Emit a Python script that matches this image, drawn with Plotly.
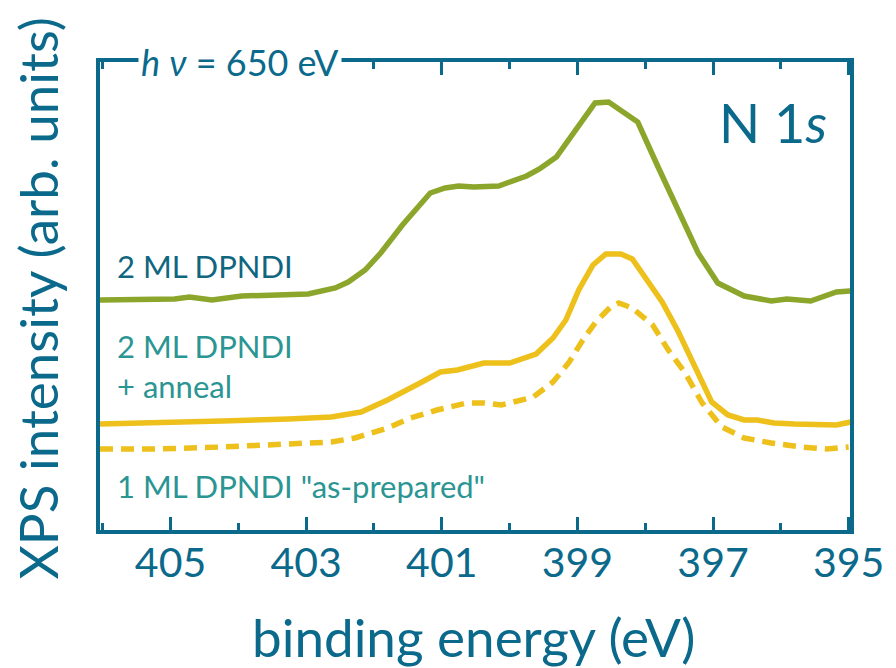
import plotly.graph_objects as go

# binding energy (eV) and intensity (arb. units)
be_2ml = [406.04, 405.45, 404.94, 404.72, 404.39, 403.95, 403.41, 402.97, 402.57, 402.38,
          402.13, 401.90, 401.58, 401.17, 400.95, 400.75, 400.53, 400.16, 399.75, 399.56,
          399.31, 399.02, 398.74, 398.54, 398.29, 398.11, 397.81, 397.51, 397.22, 396.93,
          396.54, 396.14, 395.91, 395.56, 395.18, 394.97]
int_2ml = [2.30, 2.30, 2.31, 2.33, 2.30, 2.34, 2.35, 2.36, 2.42, 2.48,
           2.60, 2.77, 3.05, 3.37, 3.42, 3.44, 3.43, 3.44, 3.54, 3.61,
           3.73, 4.00, 4.27, 4.28, 4.17, 4.08, 3.63, 3.20, 2.77, 2.47,
           2.34, 2.29, 2.31, 2.29, 2.38, 2.39]

be_anneal = [406.04, 405.20, 404.24, 403.26, 402.63, 402.19, 401.80, 401.32, 401.02, 400.77,
             400.38, 400.00, 399.61, 399.36, 399.17, 398.98, 398.77, 398.58, 398.36, 398.19,
             398.00, 397.75, 397.51, 397.27, 397.02, 396.78, 396.54, 396.35, 396.10, 395.80,
             395.32, 395.18, 394.97]
int_anneal = [1.06, 1.07, 1.09, 1.11, 1.13, 1.18, 1.30, 1.47, 1.58, 1.60,
              1.67, 1.67, 1.76, 1.92, 2.10, 2.40, 2.65, 2.76, 2.76, 2.71,
              2.52, 2.28, 1.98, 1.65, 1.28, 1.15, 1.10, 1.10, 1.07, 1.06,
              1.05, 1.05, 1.08]

be_1ml = [406.04, 405.20, 404.24, 403.26, 402.63, 402.28, 401.80, 401.46, 401.07, 400.63,
          400.38, 400.12, 399.65, 399.36, 399.12, 398.92, 398.73, 398.51, 398.39, 398.19,
          397.89, 397.66, 397.41, 397.16, 396.87, 396.54, 396.14, 395.70, 395.32, 395.00]
int_1ml = [0.81, 0.81, 0.83, 0.86, 0.88, 0.92, 1.02, 1.12, 1.20, 1.27,
           1.27, 1.25, 1.33, 1.48, 1.68, 1.90, 2.08, 2.23, 2.27, 2.22,
           2.05, 1.80, 1.57, 1.27, 1.03, 0.92, 0.87, 0.83, 0.81, 0.83]

tick_vals = [405, 403, 401, 399, 397, 395]
tick_text = ["405", "403", "401", "399", "397", "395"]

AXIS = "#0b6a8b"
GREEN = "#8ca62c"
YELLOW = "#edc01b"
LABEL1 = "#10667f"
LABEL2 = "#2b9593"
FONT = "Lato"

fig = go.Figure()
fig.add_trace(go.Scatter(x=be_2ml, y=int_2ml, mode="lines",
                         line=dict(color=GREEN, width=5.5), showlegend=False))
fig.add_trace(go.Scatter(x=be_anneal, y=int_anneal, mode="lines",
                         line=dict(color=YELLOW, width=5.5), showlegend=False))
fig.add_trace(go.Scatter(x=be_1ml, y=int_1ml, mode="lines",
                         line=dict(color=YELLOW, width=5.5, dash="13px,8px"), showlegend=False))

fig.update_layout(
    width=896, height=668,
    margin=dict(l=100, r=39, t=62, b=138),
    paper_bgcolor="white", plot_bgcolor="white",
    font=dict(family=FONT, color=AXIS),
    xaxis=dict(
        range=[406.04, 394.98], showgrid=False, zeroline=False,
        showline=True, linecolor=AXIS, linewidth=3.5, mirror="ticks",
        ticks="inside", ticklen=13, tickwidth=3, tickcolor=AXIS,
        tickvals=tick_vals, ticktext=tick_text,
        tickfont=dict(size=41, color=AXIS, family=FONT),
        ticklabelstandoff=-6,
        minor=dict(ticks="inside", ticklen=7, tickwidth=3, tickcolor=AXIS,
                   dtick=1, tick0=395),
    ),
    yaxis=dict(
        range=[0, 4.68], showgrid=False, zeroline=False,
        showline=True, linecolor=AXIS, linewidth=3.5, mirror=True,
        ticks="", showticklabels=False,
    ),
)

# axis titles
fig.add_annotation(xref="paper", yref="paper", x=0.498, y=-0.2265, xanchor="center", yanchor="middle",
                   text="binding energy (eV)", showarrow=False,
                   font=dict(size=53, color=AXIS, family=FONT))
fig.add_annotation(xref="paper", yref="paper", x=-0.083, y=0.494, xanchor="center", yanchor="middle",
                   text="XPS intensity (arb. units)", textangle=-90, showarrow=False,
                   font=dict(size=53, color=AXIS, family=FONT))

fig.add_annotation(xref="paper", yref="paper", x=0.05, y=1.0, xanchor="left", yanchor="middle",
                   text="<i>h</i> <i>ν</i> = 650 eV", showarrow=False, bgcolor="white",
                   borderpad=2, font=dict(size=36, color=AXIS, family=FONT))
fig.add_annotation(xref="paper", yref="paper", x=0.972, y=0.87, xanchor="right", yanchor="middle",
                   text="N 1<i>s</i>", showarrow=False, font=dict(size=54, color=AXIS, family=FONT))
fig.add_annotation(xref="paper", yref="paper", x=0.02, y=0.565, xanchor="left", yanchor="middle",
                   text="2 ML DPNDI", showarrow=False, font=dict(size=31, color=LABEL1, family=FONT))
fig.add_annotation(xref="paper", yref="paper", x=0.02, y=0.35, xanchor="left", yanchor="middle",
                   text="2 ML DPNDI<br>+ anneal", align="left", showarrow=False,
                   font=dict(size=31, color=LABEL2, family=FONT))
fig.add_annotation(xref="paper", yref="paper", x=0.02, y=0.095, xanchor="left", yanchor="middle",
                   text="1 ML DPNDI \"as-prepared\"", showarrow=False,
                   font=dict(size=31, color=LABEL2, family=FONT))

fig.write_html("out.html")
